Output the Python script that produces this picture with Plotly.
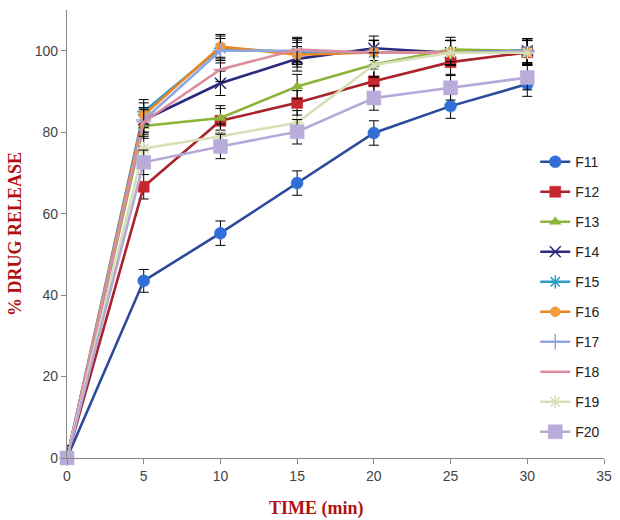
import plotly.graph_objects as go

time = [0, 5, 10, 15, 20, 25, 30]
names = ["F11", "F12", "F13", "F14", "F15", "F16", "F17", "F18", "F19", "F20"]
values = {
    "F11": [0, 43.5, 55.2, 67.5, 79.8, 86.4, 91.8],
    "F12": [0, 66.6, 82.8, 87.2, 92.5, 97.2, 99.6],
    "F13": [0, 81.5, 83.5, 91.2, 96.6, 100.3, 100.0],
    "F14": [0, 83.0, 92.0, 98.0, 100.6, 99.5, 100.0],
    "F15": [0, 85.0, 100.6, 99.6, 99.5, 99.5, 100.0],
    "F16": [0, 84.2, 101.0, 99.0, 99.6, 99.6, 99.6],
    "F17": [0, 83.0, 100.0, 100.0, 99.5, 99.5, 100.0],
    "F18": [0, 82.5, 95.4, 100.3, 99.5, 99.5, 99.5],
    "F19": [0, 76.0, 79.0, 82.3, 96.5, 99.5, 99.5],
    "F20": [0, 72.6, 76.5, 80.1, 88.4, 90.9, 93.4],
}
errors = {
    "F11": [0, 2.8, 3.0, 3.0, 3.0, 3.0, 3.0],
    "F12": [0, 3.0, 3.0, 3.0, 3.0, 3.0, 3.0],
    "F13": [0, 3.0, 3.0, 3.0, 3.0, 3.0, 3.0],
    "F14": [0, 3.0, 3.0, 3.0, 3.0, 3.0, 3.0],
    "F15": [0, 3.0, 3.0, 3.0, 3.0, 3.0, 3.0],
    "F16": [0, 3.0, 3.0, 3.0, 3.0, 3.0, 3.0],
    "F17": [0, 3.0, 3.0, 3.0, 3.0, 3.0, 3.0],
    "F18": [0, 3.0, 3.0, 3.0, 3.0, 3.0, 3.0],
    "F19": [0, 3.0, 3.0, 3.0, 3.0, 3.0, 3.0],
    "F20": [3.0, 3.0, 3.0, 3.0, 3.0, 3.0, 3.0],
}

styles = {
    "F11": dict(line="#2B4A9A", fill="#2F6FD6", symbol="circle", size=12),
    "F12": dict(line="#A8232A", fill="#C8262E", symbol="square", size=11),
    "F13": dict(line="#8AB43A", fill="#8AB43A", symbol="triangle-up", size=10),
    "F14": dict(line="#2C2A80", fill="#2C2A80", symbol="x-thin", size=11),
    "F15": dict(line="#2E9DC2", fill="#2E9DC2", symbol="asterisk", size=11),
    "F16": dict(line="#EE8420", fill="#F39A3C", symbol="circle", size=10),
    "F17": dict(line="#8FA6E0", fill="#8FA6E0", symbol="cross-thin", size=11),
    "F18": dict(line="#DC8C9C", fill="#DC8C9C", symbol="line-ew", size=10),
    "F19": dict(line="#D6E0B6", fill="#D6E0B6", symbol="asterisk", size=11),
    "F20": dict(line="#B6A8D8", fill="#B9ACDB", symbol="square", size=14),
}

fig = go.Figure()
for n in names:
    s = styles[n]
    thin = s["symbol"] in ("x-thin", "cross-thin", "asterisk", "line-ew")
    fig.add_trace(go.Scatter(
        x=time, y=values[n], name=n, mode="lines+markers",
        legendgroup=n, cliponaxis=False,
        line=dict(color=s["line"], width=2.6),
        marker=dict(symbol=s["symbol"], size=s["size"], color=s["fill"],
                    line=dict(color=s["line"] if thin else s["fill"], width=1.5 if thin else 0.5)),
        error_y=dict(type="data", array=errors[n], visible=True,
                     color="black", thickness=1, width=5),
    ))

fig.update_layout(
    width=620, height=520,
    margin=dict(l=67, r=8, t=10, b=62),
    paper_bgcolor="white", plot_bgcolor="white",
    font=dict(family="Liberation Sans, Arial, sans-serif", size=14, color="#333333"),
    showlegend=True,
    legend=dict(x=0.872, y=0.696, xanchor="left", yanchor="top",
                bgcolor="rgba(0,0,0,0)", font=dict(size=14, color="#222222"),
                tracegroupgap=8.8, traceorder="grouped"),
    xaxis=dict(range=[0, 35], tickvals=[0, 5, 10, 15, 20, 25, 30, 35],
               showgrid=False, zeroline=False, showline=True, linecolor="#888888",
               linewidth=1.2, ticks="outside", ticklen=5, tickcolor="#888888",
               tickfont=dict(size=14, color="#444444")),
    yaxis=dict(range=[0, 110], tickvals=[0, 20, 40, 60, 80, 100],
               showgrid=False, zeroline=False, showline=True, linecolor="#888888",
               linewidth=1.2, ticks="outside", ticklen=5, tickcolor="#888888",
               tickfont=dict(size=14, color="#444444"),
               title=dict(text="<b>% DRUG RELEASE</b>", standoff=8,
                          font=dict(family="Liberation Serif, DejaVu Serif, serif",
                                    size=18, color="#B01010"))),
    annotations=[dict(text="<b>TIME (min)</b>", xref="paper", yref="paper",
                      x=0.464, y=-0.113, xanchor="center", yanchor="middle",
                      showarrow=False,
                      font=dict(family="Liberation Serif, DejaVu Serif, serif",
                                size=18, color="#B01010"))],
)

fig.write_html("out.html")
